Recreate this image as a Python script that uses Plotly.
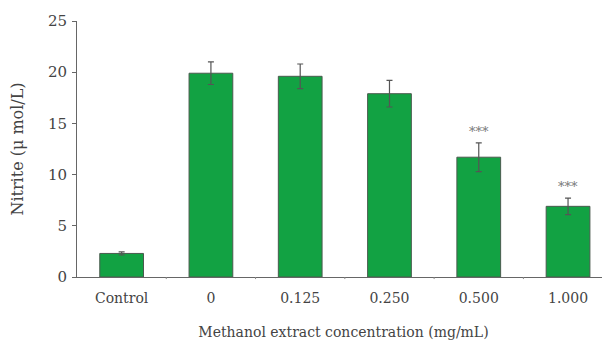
import plotly.graph_objects as go

categories = ["Control", "0", "0.125", "0.250", "0.500", "1.000"]
nitrite = [2.3, 19.9, 19.6, 17.9, 11.7, 6.9]
errors = [0.15, 1.1, 1.2, 1.3, 1.4, 0.8]
significance = ["", "", "", "", "***", "***"]
y_ticks = [0, 5, 10, 15, 20, 25]

FONT = "DejaVu Serif, Liberation Serif, serif"

fig = go.Figure()
fig.add_trace(go.Bar(
    x=list(range(len(categories))), y=nitrite,
    marker=dict(color="#12a243", line=dict(color="#4a5a4e", width=1)),
    error_y=dict(type="data", array=errors, visible=True, color="#555555",
                 thickness=1.2, width=3),
    width=0.49,
))

for i, (v, e, s) in enumerate(zip(nitrite, errors, significance)):
    if s:
        fig.add_annotation(x=i, y=v + e, text=s, showarrow=False,
                           yanchor="bottom", yshift=2,
                           font=dict(family=FONT, size=13, color="#777777"))

fig.update_layout(
    width=602, height=332,
    margin=dict(l=69, r=0, t=13, b=63),
    paper_bgcolor="white", plot_bgcolor="white",
    showlegend=False,
    font=dict(family=FONT, size=13, color="#333333"),
    xaxis=dict(
        range=[-0.5, 5.47], automargin=False,
        tickvals=list(range(len(categories))), ticktext=categories,
        showline=True, linecolor="#666666", linewidth=1,
        ticks="", showgrid=False, zeroline=False, ticklabelstandoff=8,
        tickfont=dict(family=FONT, size=14, color="#444444"),
        title=dict(text="Methanol extract concentration (mg/mL)",
                   font=dict(family=FONT, size=14, color="#444444"), standoff=25),
    ),
    yaxis=dict(
        range=[0, 25], tickvals=y_ticks, automargin=False,
        showline=True, linecolor="#666666", linewidth=1,
        ticks="outside", ticklen=4, tickcolor="#666666", ticklabelstandoff=2,
        showgrid=False, zeroline=False,
        tickfont=dict(family=FONT, size=15, color="#444444"),
        title=dict(text="Nitrite (μ mol/L)",
                   font=dict(family=FONT, size=16, color="#444444"), standoff=21),
    ),
)

# small boundary ticks between categories on the x axis
for b in [0.5, 1.5, 2.5, 3.5, 4.5]:
    fig.add_shape(type="line", xref="x", yref="paper", x0=b, x1=b,
                  y0=0, y1=-0.008, line=dict(color="#888888", width=1))

fig.write_html("out.html")
